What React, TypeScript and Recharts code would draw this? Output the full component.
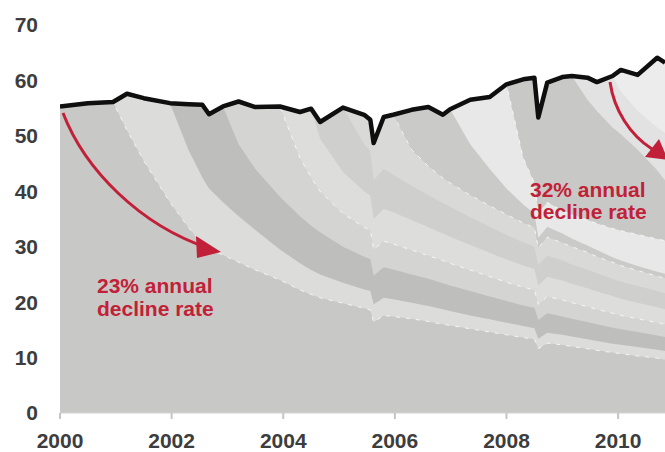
import React from 'react';
import { ComposedChart, Area, Line, XAxis, YAxis } from 'recharts';

// time points (decimal years) at which the layers were read
const years = [
  2000, 2000.5, 2000.95, 2001.2, 2001.5, 2001.97, 2002.3, 2002.55, 2002.67, 2002.92,
  2003.2, 2003.5, 2003.94, 2004.3, 2004.5, 2004.66, 2005.07, 2005.45, 2005.56, 2005.62,
  2005.8, 2005.97, 2006.3, 2006.6, 2006.86, 2006.99, 2007.35, 2007.7, 2008.0, 2008.3,
  2008.5, 2008.57, 2008.73, 2009.0, 2009.17, 2009.45, 2009.62, 2009.9, 2010.05, 2010.35,
  2010.7, 2010.84,
];

// total production (black line)
const total = [
  55.3, 55.9, 56.1, 57.6, 56.8, 55.9, 55.7, 55.6, 53.9, 55.3,
  56.2, 55.2, 55.3, 54.3, 54.9, 52.5, 55.1, 53.8, 52.9, 48.7,
  53.4, 53.8, 54.7, 55.2, 53.8, 54.8, 56.5, 57.0, 59.3, 60.2,
  60.5, 53.3, 59.6, 60.6, 60.8, 60.5, 59.7, 60.8, 61.9, 61.0,
  64.1, 63.2,
];

// cumulative top of each well vintage, from the year it first appears
const topBase = [
  55.3, 55.9, 56.1, 51.0, 45.5, 38.0, 33.5, 30.5, 29.5, 28.5,
  27.2, 25.8, 24.0, 22.2, 21.4, 20.8, 19.8, 18.9, 18.6, 16.4,
  17.6, 17.4, 17.0, 16.5, 16.0, 15.8, 15.2, 14.6, 14.1, 13.6,
  13.3, 11.6, 12.6, 12.3, 12.0, 11.6, 11.3, 10.9, 10.7, 10.3,
  9.9, 9.6,
];
const top2001 = [
  56.1, 57.6, 56.8, 55.9, 47.5, 42.5, 40.5, 38.0, 35.5, 33.0,
  29.5, 27.0, 25.8, 25.0, 23.5, 22.3, 22.0, 19.6, 20.8, 20.5,
  19.9, 19.3, 18.7, 18.4, 17.6, 16.9, 16.3, 15.7, 15.3, 13.4,
  14.5, 14.1, 13.8, 13.3, 13.0, 12.5, 12.3, 11.9, 11.4, 11.2,
];
const top2002 = [
  55.9, 55.7, 55.6, 53.9, 55.3, 48.5, 44.0, 39.0, 35.5, 33.8,
  32.6, 30.0, 28.2, 27.8, 24.8, 26.3, 25.9, 25.0, 24.2, 23.4,
  23.0, 22.0, 21.0, 20.2, 19.4, 19.0, 16.8, 18.0, 17.4, 17.0,
  16.4, 16.0, 15.4, 15.1, 14.6, 14.0, 13.7,
];
const top2003 = [
  55.3, 56.2, 55.2, 55.3, 46.0, 42.5, 40.0, 36.0, 33.5, 33.0,
  29.5, 31.0, 30.5, 29.4, 28.4, 27.5, 27.0, 25.8, 24.6, 23.6,
  22.7, 22.2, 19.6, 21.0, 20.4, 19.9, 19.2, 18.7, 18.0, 17.6,
  17.0, 16.3, 16.0,
];
const top2004 = [
  55.3, 54.3, 54.9, 49.5, 43.5, 40.0, 39.2, 35.0, 36.8, 36.2,
  34.8, 33.5, 32.4, 31.8, 30.3, 28.9, 27.7, 26.6, 26.0, 23.0,
  24.6, 23.9, 23.3, 22.5, 21.9, 21.1, 20.6, 19.9, 19.1, 18.7,
];
const top2004b = [
  54.9, 52.5, 55.1, 48.5, 47.2, 42.0, 44.0, 43.0, 41.0, 39.3,
  37.9, 37.2, 35.3, 33.6, 32.1, 30.8, 30.0, 26.6, 28.4, 27.5,
  26.8, 25.9, 25.2, 24.2, 23.7, 22.9, 22.0, 21.6,
];
const top2005 = [
  55.1, 53.8, 52.9, 48.7, 53.4, 53.8, 47.5, 44.5, 42.4, 41.5,
  39.3, 37.4, 35.8, 34.3, 33.4, 29.8, 31.7, 30.7, 30.0, 29.0,
  28.2, 27.2, 26.6, 25.7, 24.7, 24.3,
];
const top2006 = [
  53.8, 54.7, 55.2, 53.8, 54.8, 48.5, 44.0, 40.5, 37.6, 36.0,
  31.6, 33.6, 32.4, 31.5, 30.2, 29.4, 28.1, 27.5, 26.5, 25.5,
  25.1,
];
const top2007 = [
  54.8, 56.5, 57.0, 59.3, 46.0, 41.5, 36.0, 38.0, 36.5, 35.8,
  34.8, 34.2, 33.3, 32.9, 32.2, 31.4, 31.1,
];
const top2008 = [
  59.3, 60.2, 60.5, 53.3, 59.6, 60.6, 60.8, 56.5, 54.5, 51.5,
  50.3, 47.5, 43.8, 42.0,
];
const top2009 = [60.8, 60.5, 59.7, 60.8, 58.0, 54.5, 51.5, 50.5];
const top2010 = [60.8, 61.9, 61.0, 64.1, 63.2];

const yTicks = [0, 10, 20, 30, 40, 50, 60, 70];
const xTicks = [2000, 2002, 2004, 2006, 2008, 2010];

// layers drawn back to front (newest on top of the stack)
const layers = [
  { key: 'v2010', values: top2010, fill: '#ececec', dashed: false },
  { key: 'v2009', values: top2009, fill: '#e2e2e2', dashed: false },
  { key: 'v2008', values: top2008, fill: '#c8c8c7', dashed: false },
  { key: 'v2007', values: top2007, fill: '#e8e8e8', dashed: true },
  { key: 'v2006', values: top2006, fill: '#cacac9', dashed: false },
  { key: 'v2005', values: top2005, fill: '#d9d9d8', dashed: true },
  { key: 'v2004b', values: top2004b, fill: '#cfcfce', dashed: false },
  { key: 'v2004', values: top2004, fill: '#dddddc', dashed: false },
  { key: 'v2003', values: top2003, fill: '#d4d4d3', dashed: true },
  { key: 'v2002', values: top2002, fill: '#bebebd', dashed: false },
  { key: 'v2001', values: top2001, fill: '#dcdcda', dashed: false },
  { key: 'base', values: topBase, fill: '#c8c8c6', dashed: true },
];

const data = years.map((t, i) => {
  const row: Record<string, number | null> = { t, total: total[i] };
  layers.forEach((l) => {
    const start = years.length - l.values.length;
    row[l.key] = i >= start ? l.values[i - start] : null;
  });
  return row;
});

const RED = '#c21f38';
const FONT = '"Liberation Sans", Arial, sans-serif';
const tickStyle = { fill: '#3d3d3d', fontSize: 21, fontWeight: 700, fontFamily: FONT };

export default function App() {
  return (
    <div style={{ position: 'fixed', left: 0, top: 0, width: 665, height: 452, background: '#fff' }}>
      <ComposedChart
        width={665}
        height={452}
        data={data}
        margin={{ top: 25, right: 0, bottom: 0, left: 0 }}
      >
        <XAxis
          dataKey="t"
          type="number"
          domain={[2000, 2010.84]}
          ticks={xTicks}
          allowDataOverflow
          height={39}
          tick={tickStyle}
          tickSize={6}
          tickMargin={14}
          axisLine={{ stroke: '#d2d2d2', strokeWidth: 1 }}
          tickLine={{ stroke: '#c4c4c4', strokeWidth: 2 }}
        />
        <YAxis
          type="number"
          domain={[0, 70]}
          ticks={yTicks}
          width={60}
          tick={tickStyle}
          tickSize={0}
          tickMargin={22}
          axisLine={false}
          tickLine={false}
        />
        {layers.map((l) => (
          <Area
            key={l.key}
            dataKey={l.key}
            type="linear"
            baseValue={0}
            fill={l.fill}
            fillOpacity={1}
            stroke={l.dashed ? '#ffffff' : 'none'}
            strokeOpacity={0.75}
            strokeWidth={1}
            strokeDasharray={l.dashed ? '4 6' : undefined}
            dot={false}
            activeDot={false}
            isAnimationActive={false}
          />
        ))}
        <Line
          dataKey="total"
          type="linear"
          stroke="#0f0f0f"
          strokeWidth={4.5}
          strokeLinejoin="round"
          dot={false}
          activeDot={false}
          isAnimationActive={false}
        />
      </ComposedChart>
      <svg
        width={665}
        height={452}
        style={{ position: 'absolute', left: 0, top: 0, pointerEvents: 'none' }}
      >
        <path d="M 63 113 C 85 170, 140 225, 208 248" fill="none" stroke={RED} strokeWidth={3} />
        <polygon points="196,236 221,252 197,258" fill={RED} />
        <path d="M 610 82 C 614 110, 630 135, 652 149" fill="none" stroke={RED} strokeWidth={3} />
        <polygon points="645,157 668,160 659,139" fill={RED} />
        <g fill={RED} fontFamily={FONT} fontWeight={700} fontSize={21}>
          <text x={97} y={293}>23% annual</text>
          <text x={97} y={316}>decline rate</text>
          <text x={530} y={197}>32% annual</text>
          <text x={530} y={219}>decline rate</text>
        </g>
      </svg>
    </div>
  );
}
